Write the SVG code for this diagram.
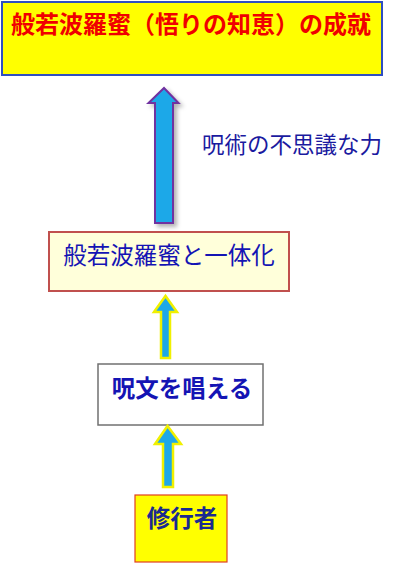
<svg xmlns="http://www.w3.org/2000/svg" width="406" height="563" viewBox="0 0 406 563">
<style>
text{font-family:"Noto Sans CJK JP","Noto Sans CJK SC",sans-serif;text-anchor:middle;dominant-baseline:central}
.blue{fill:#1414B4}
.arrow{fill:#1EA8E8}
.small{stroke:#F0F000;stroke-width:2.5}
</style>
<defs>
<filter id="sh" x="-50%" y="-10%" width="200%" height="120%">
<feDropShadow dx="3" dy="3" stdDeviation="2" flood-color="#000" flood-opacity="0.3"/>
</filter>
</defs>
<g id="goal">
<rect x="2" y="2" width="380" height="73" fill="#FFFF00" stroke="#2F4FC0" stroke-width="2"/>
<text x="191" y="22" font-size="24" font-weight="bold" fill="#F00000">般若波羅蜜（悟りの知恵）の成就</text>
</g>
<g id="unity">
<rect x="49" y="232" width="240" height="59" fill="#FFFFDA" stroke="#C0504D" stroke-width="2"/>
<text x="169" y="254" font-size="23.5" class="blue">般若波羅蜜と一体化</text>
</g>
<g id="chant">
<rect x="98" y="364" width="165" height="61" fill="#FFFFFF" stroke="#707070" stroke-width="1.5"/>
<text x="182" y="387" font-size="23.5" font-weight="bold" class="blue">呪文を唱える</text>
</g>
<g id="practitioner">
<rect x="135" y="495" width="92" height="67" fill="#FFFF00" stroke="#E04020" stroke-width="1.2"/>
<text x="182" y="517" font-size="23.5" font-weight="bold" fill="#1A2A90">修行者</text>
</g>
<g id="connectors">
<path class="arrow" d="M155,223 V103 H148.5 L164,88 L178.5,103 H173 V223 Z" stroke="#7030A0" stroke-width="2" filter="url(#sh)"/>
<path class="arrow small" d="M161,358 V312 H154 L165.5,296 L177,312 H170 V358 Z"/>
<path class="arrow small" d="M163,487 V444 H155 L167.5,426 L181,444 H173 V487 Z"/>
</g>
<text x="292" y="143" font-size="22.5" fill="#1A1AA0">呪術の不思議な力</text>
</svg>
